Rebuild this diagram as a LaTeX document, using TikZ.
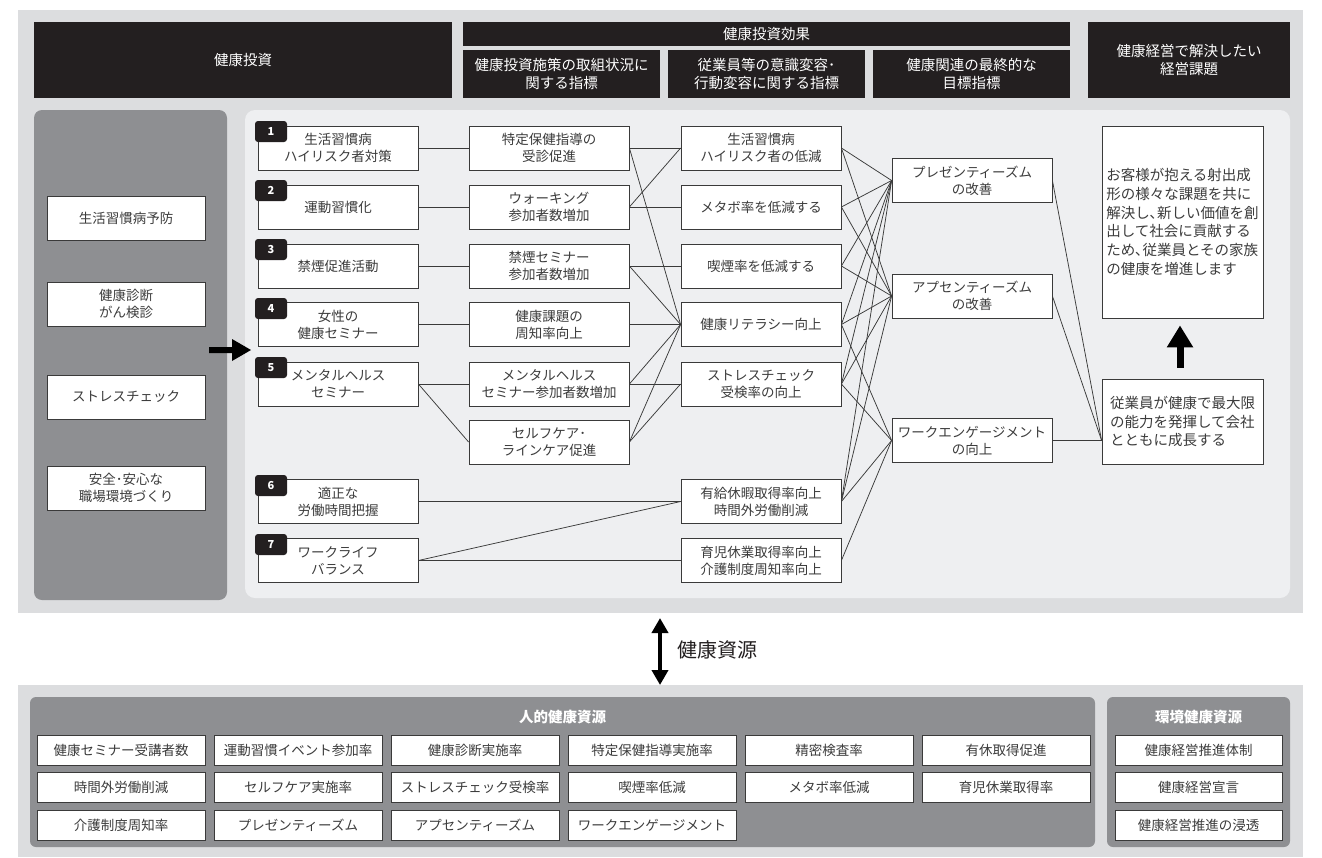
\documentclass[tikz,border=0pt]{standalone}
\usepackage{fontspec}
\setmainfont{Noto Sans CJK JP}
\usetikzlibrary{arrows.meta}
\definecolor{bandc}{HTML}{DCDDDF}
\definecolor{panelc}{HTML}{EEEFF1}
\definecolor{darkc}{HTML}{8E8F92}
\definecolor{hdrc}{HTML}{231F20}
\definecolor{linec}{HTML}{3A3A3A}
\definecolor{txtc}{HTML}{3C3C3C}
\begin{document}
\begin{tikzpicture}[x=1pt,y=-1pt,
  box/.style={draw=linec, line width=0.8pt, fill=white, minimum width=160pt, minimum height=44pt, inner sep=0pt, align=center, text=txtc, font=\fontsize{13.5}{17}\selectfont},
  lbox/.style={box, minimum width=158pt},
  gbox/.style={box, minimum width=161pt, align=left, font=\fontsize{14.5}{18.8}\selectfont},
  hdr/.style={fill=hdrc, text=white, inner sep=0pt, align=center, font=\fontsize{14.5}{18}\selectfont},
  badge/.style={fill=hdrc, rounded corners=3pt, minimum width=32pt, minimum height=21pt, inner sep=0pt, text=white, font=\bfseries\fontsize{11}{11}\selectfont},
  res/.style={draw=linec, line width=0.8pt, fill=white, minimum width=168pt, minimum height=30pt, inner sep=0pt, text=txtc, font=\fontsize{13.5}{16}\selectfont},
  ptitle/.style={text=white, inner sep=0pt, font=\bfseries\fontsize{14.5}{16}\selectfont},
  conn/.style={draw=linec, line width=0.75pt}]
\useasboundingbox (0,0) rectangle (1322,857);
\fill[white] (0,0) rectangle (1322,857);
% bands
\fill[bandc] (18,10) rectangle (1303,613);
\fill[bandc] (18,685) rectangle (1303,857);
% headers
\node[hdr, minimum width=418pt, minimum height=76pt] (hA) at (243,60) {健康投資};
\node[hdr, minimum width=607pt, minimum height=24pt] (hB) at (766.5,34) {健康投資効果};
\node[hdr, minimum width=197pt, minimum height=48pt] (hB1) at (561.5,74) {健康投資施策の取組状況に\\関する指標};
\node[hdr, minimum width=197pt, minimum height=48pt] (hB2) at (766.5,74) {従業員等の意識変容･\\行動変容に関する指標};
\node[hdr, minimum width=197pt, minimum height=48pt] (hB3) at (971.5,74) {健康関連の最終的な\\目標指標};
\node[hdr, minimum width=202pt, minimum height=76pt] (hC) at (1189,60) {健康経営で解決したい\\経営課題};
% panels
\fill[darkc, rounded corners=8pt] (34,110) rectangle (227,600);
\fill[panelc, rounded corners=10pt] (245,110) rectangle (1290,598);
% left column
\node[lbox] (s1) at (126,218) {生活習慣病予防};
\node[lbox] (s2) at (126,304) {健康診断\\がん検診};
\node[lbox] (s3) at (126,397) {ストレスチェック};
\node[lbox] (s4) at (126,488) {安全･安心な\\職場環境づくり};
\fill[black] (209,347) -- (232,347) -- (232,339) -- (251,350) -- (232,361) -- (232,353) -- (209,353) -- cycle;
% column L
\node[box] (L1) at (338,148) {生活習慣病\\ハイリスク者対策};
\node[box] (L2) at (338,207) {運動習慣化};
\node[box] (L3) at (338,266) {禁煙促進活動};
\node[box] (L4) at (338,324.5) {女性の\\健康セミナー};
\node[box] (L5) at (338,384) {メンタルヘルス\\セミナー};
\node[box] (L6) at (338,501.5) {適正な\\労働時間把握};
\node[box] (L7) at (338,560.5) {ワークライフ\\バランス};
% column M
\node[box] (M1) at (549,148) {特定保健指導の\\受診促進};
\node[box] (M2) at (549,207) {ウォーキング\\参加者数増加};
\node[box] (M3) at (549,266) {禁煙セミナー\\参加者数増加};
\node[box] (M4) at (549,324.5) {健康課題の\\周知率向上};
\node[box] (M5) at (549,384) {メンタルヘルス\\セミナー参加者数増加};
\node[box] (M6) at (549,442) {セルフケア･\\ラインケア促進};
% column R
\node[box] (R1) at (761,148) {生活習慣病\\ハイリスク者の低減};
\node[box] (R2) at (761,207) {メタボ率を低減する};
\node[box] (R3) at (761,266) {喫煙率を低減する};
\node[box] (R4) at (761,324.5) {健康リテラシー向上};
\node[box] (R5) at (761,384) {ストレスチェック\\受検率の向上};
\node[box] (R6) at (761,501.5) {有給休暇取得率向上\\時間外労働削減};
\node[box] (R7) at (761,560.5) {育児休業取得率向上\\介護制度周知率向上};
% column P
\node[box] (P1) at (972,180.5) {プレゼンティーズム\\の改善};
\node[box] (P2) at (972,296) {アプセンティーズム\\の改善};
\node[box] (P3) at (972,440.5) {ワークエンゲージメント\\の向上};
% goals
\node[gbox, minimum height=192pt] (G1) at (1182.5,222) {お客様が抱える射出成\\形の様々な課題を共に\\解決し､新しい価値を創\\出して社会に貢献する\\ため､従業員とその家族\\の健康を増進します};
\node[gbox, minimum height=85pt] (G2) at (1182.5,421.5) {従業員が健康で最大限\\の能力を発揮して会社\\とともに成長する};
\draw[line width=7pt, -{Triangle[width=25pt,length=22pt]}] ([xshift=-2.5pt,yshift=11pt]G2.north) -- ([xshift=-2.5pt,yshift=-7pt]G1.south);
% connectors L-M
\foreach \i in {1,2,3,4,5} \draw[conn] (L\i.east) -- (M\i.west);
\draw[conn] (L5.east) -- (M6.west);
\draw[conn] (L6.east) -- (R6.west);
\draw[conn] (L7.east) -- (R6.west);
\draw[conn] (L7.east) -- (R7.west);
% connectors M-R
\foreach \a/\b in {1/1,1/4,2/1,2/2,3/3,3/4,4/4,5/4,5/5,6/4,6/5} \draw[conn] (M\a.east) -- (R\b.west);
% connectors R-P
\foreach \a/\b in {1/1,1/2,2/1,2/2,3/1,3/2,4/1,4/2,4/3,5/1,5/2,5/3,6/1,6/2,6/3,7/3} \draw[conn] (R\a.east) -- (P\b.west);
% connectors P-G
\coordinate (gin) at (G2.west |- P3.east);
\foreach \a in {1,2,3} \draw[conn] (P\a.east) -- (gin);
% badges
\foreach \n/\y in {1/126,2/185,3/244,4/303,5/362,6/480,7/539} \node[badge] (b\n) at (271,\y+5.5) {\n};
% resources arrow
\coordinate (ra) at (660,618);
\coordinate (rb) at (660,685);
\draw[line width=3.8pt, {Triangle[width=16pt,length=15pt]}-{Triangle[width=16pt,length=15pt]}] (ra) -- (rb);
\node[anchor=west, text=hdrc, inner sep=0pt, font=\fontsize{20}{20}\selectfont] (kr) at (677,650) {健康資源};
% bottom panels
\fill[darkc, rounded corners=6pt] (30,697) rectangle (1095,847);
\fill[darkc, rounded corners=6pt] (1107,697) rectangle (1290,847);
\node[ptitle] (t1) at (562.5,717) {人的健康資源};
\node[ptitle] (t2) at (1198.5,717) {環境健康資源};
\foreach \txt [count=\k from 0] in {健康セミナー受講者数,運動習慣イベント参加率,健康診断実施率,特定保健指導実施率,精密検査率,有休取得促進}
  \node[res] (ra\k) at (121+177*\k,750) {\txt};
\foreach \txt [count=\k from 0] in {時間外労働削減,セルフケア実施率,ストレスチェック受検率,喫煙率低減,メタボ率低減,育児休業取得率}
  \node[res] (rb\k) at (121+177*\k,787.5) {\txt};
\foreach \txt [count=\k from 0] in {介護制度周知率,プレゼンティーズム,アプセンティーズム,ワークエンゲージメント}
  \node[res] (rc\k) at (121+177*\k,825) {\txt};
\node[res, minimum width=167pt] (e1) at (1198.5,750) {健康経営推進体制};
\node[res, minimum width=167pt] (e2) at (1198.5,787.5) {健康経営宣言};
\node[res, minimum width=167pt] (e3) at (1198.5,825) {健康経営推進の浸透};
\end{tikzpicture}
\end{document}
